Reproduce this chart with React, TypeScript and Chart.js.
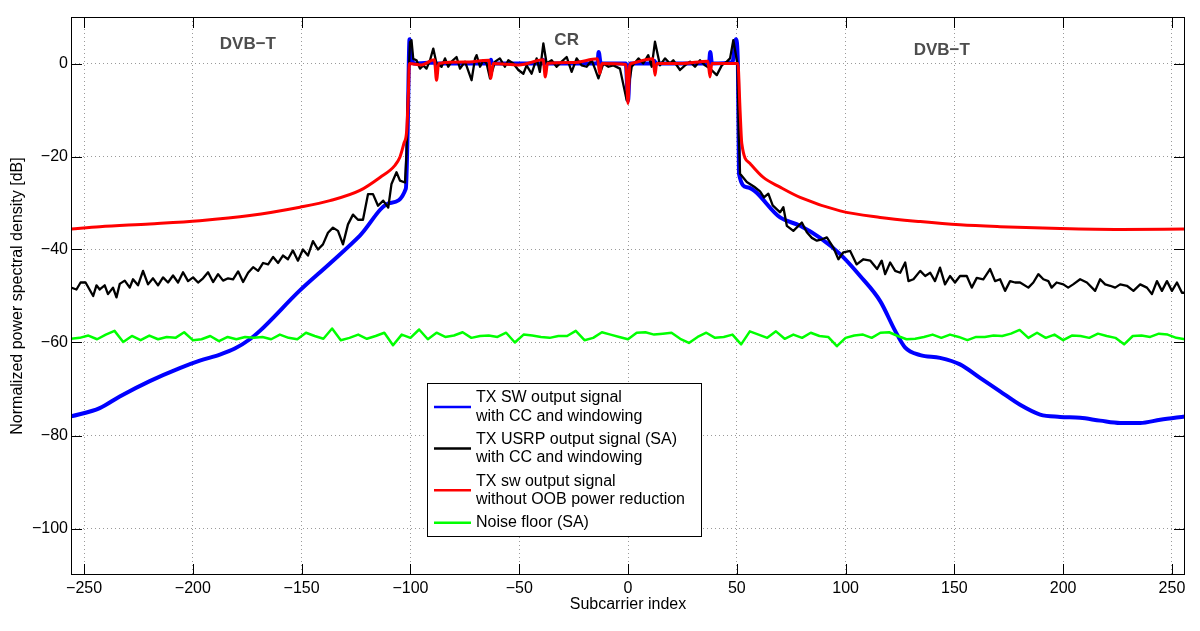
import React, { useEffect, useRef } from "react";
import { Chart, registerables } from "chart.js";

Chart.register(...registerables);

const FONT = "'Liberation Sans', Arial, Helvetica, sans-serif";

const X_TICKS = [-250, -200, -150, -100, -50, 0, 50, 100, 150, 200, 250];
const Y_TICKS = [-100, -80, -60, -40, -20, 0];
const X_MIN = -256;
const X_MAX = 256;
const Y_MIN = -110;
const Y_MAX = 10;

const X_TITLE = "Subcarrier index";
const Y_TITLE = "Normalized power spectral density [dB]";

const SERIES_LABELS = [
  ["TX SW output signal", "with CC and windowing"],
  ["TX USRP output signal (SA)", "with CC and windowing"],
  ["TX sw output signal", "without OOB power reduction"],
  ["Noise floor (SA)"],
];
const SERIES_COLORS = ["#0000ff", "#000000", "#ff0000", "#00ff00"];

const REGION_TEXT = ["DVB\u2212T", "CR", "DVB\u2212T"];
const REGION_X = [-174.7, -28.2, 144.2];
const REGION_Y = [4.1, 5.0, 2.9];

// Blue: TX SW output with CC and windowing
const BLUE_X = [-256, -242.8, -233.6, -219.8, -206, -196.8, -187.6, -180.7, -173.8, -169.2, -150.8, -137, -123.2, -109.4, -102.1, -101.3, -100.4, -99.6, -98.5, -88.5, -88, -87.5, -63.5, -63, -62.5, -39.5, -39, -38, -14, -13.5, -12.5, -1, 0, 1, 11.5, 12, 13, 37.2, 37.8, 38.6, 48, 49.6, 50.5, 51, 54.7, 69.9, 79.1, 88.3, 97.5, 106.7, 115.9, 122.8, 127.4, 134.3, 143.4, 152.6, 161.8, 171, 180.2, 189.4, 198.6, 207.8, 217, 226.2, 235.4, 244.6, 256];
const BLUE_Y = [-75.9, -74.1, -71.6, -68.3, -65.5, -63.9, -62.6, -61.3, -59.3, -57.5, -48.8, -43.0, -37.0, -30.0, -26.9, -15, 5.2, 2, 0, 0.2, -1.5, 0, 0, 0.8, 0, 0, 0.8, 0, 0, 2.5, 0, 0, -8, 0, 0, 0.6, 0, 0, 2.5, 0, 0.3, 5.2, 0, -23.7, -26.6, -33.1, -34.9, -37.5, -41, -45.7, -51.1, -57.5, -61.1, -62.7, -63.3, -64.7, -67.6, -70.5, -73.4, -75.5, -76.0, -76.2, -76.8, -77.3, -77.3, -76.6, -75.9];

// Black: TX USRP output (SA) with CC and windowing
const BLACK_X = [-256, -253.5, -251.6, -249.3, -245.8, -244.3, -242.8, -240.5, -239.0, -236.7, -235.1, -233.6, -231.3, -229.0, -227.5, -225.2, -222.9, -220.6, -218.3, -216.0, -213.7, -211.4, -209.1, -206.8, -204.5, -202.2, -199.9, -197.6, -195.3, -193.0, -190.7, -188.4, -186.1, -183.8, -181.5, -179.2, -176.9, -174.6, -172.3, -170.0, -167.7, -165.4, -163.1, -160.8, -158.6, -156.3, -154.0, -151.7, -149.4, -147.1, -144.8, -142.5, -140.2, -137.9, -135.6, -133.3, -131.0, -128.7, -126.4, -124.1, -121.8, -119.5, -117.2, -114.9, -112.5, -110.2, -108.7, -106.4, -104.8, -102.5, -101.8, -101.0, -100.2, -99.5, -98.7,
  -97.2, -95.6, -94.1, -92.6, -91.0, -89.5, -88.0, -85.7, -84.1, -82.6, -81.1, -78.8, -77.2, -74.9, -71.9, -70.3, -69.6, -68.0, -66.5, -65.0, -63.4, -61.1, -58.9, -56.6, -55.0, -52.7, -50.4, -48.1, -46.6, -44.3, -42.0, -40.5, -38.9, -37.4, -35.1, -32.8, -30.5, -28.2, -25.9, -23.6, -21.3, -19.0, -16.7, -15.2, -13.6, -11.3, -9.0, -6.7, -3.7, -0.6, 1.7, 4.8, 7.0, 9.3, 10.9, 12.4, 14.7, 17.0, 19.3, 20.8, 23.9, 26.2, 28.5, 30.8, 33.1, 35.4, 37.7, 40.8, 43.1, 45.4, 46.9, 48.4, 50.3,
  50.9, 51.5, 54.6, 58.0, 60.7, 62.5, 64.5, 66.5, 69.9, 71.4, 73.0, 76.0, 79.9, 82.2, 84.5, 86.8, 89.1, 91.4, 94.4, 96.7, 99.0, 102.1, 105.1, 108.2, 111.4, 114.5, 116.6, 118.2, 120.5, 122.8, 125.1, 127.4, 128.9, 131.2, 134.3, 136.6, 138.9, 141.1, 143.4, 145.7, 148.0, 150.3, 152.6, 155.7, 158.0, 160.3, 163.3, 166.4, 168.7, 171.0, 173.3, 175.6, 177.9, 180.2, 184.0, 186.3, 188.6, 190.9, 193.2, 194.7, 197.0, 200.1, 202.3, 204.6, 207.8, 210.9, 214.7, 217.0, 219.3, 221.6, 223.9, 226.2, 229.3, 232.3, 235.4, 238.5, 240.8, 243.1, 245.4, 247.7, 250.0, 252.3, 254.6, 256];
const BLACK_Y = [-48.2, -48.6, -47.1, -47.1, -50.0, -47.7, -48.6, -47.7, -49.6, -48.2, -50.3, -47.4, -46.7, -48.2, -46.4, -47.7, -44.6, -47.5, -46.2, -47.7, -46.0, -47.1, -45.6, -47.1, -44.9, -46.8, -46.0, -47.1, -46.2, -44.9, -47.0, -45.3, -46.7, -46.2, -46.4, -44.7, -47.0, -45.0, -43.8, -44.6, -42.9, -43.2, -41.6, -42.9, -41.3, -42.1, -40.2, -42.4, -40.0, -41.3, -38.2, -40.0, -38.9, -36.4, -35.3, -36.0, -38.9, -34.6, -32.5, -33.6, -33.6, -28.1, -28.1, -30.6, -29.5, -31.0, -25.9, -23.4, -25.2, -25.6, -19.5, -5, 4.6, 5.0, 1.0,
  0.7, -1.1, -0.4, -1.1, 0.7, 3.2, 0, -0.7, 1.1, -0.7, 0.4, 1.4, -1.1, 0.4, -3.6, 1.1, 1.8, -0.7, 0.7, 0, -3.2, 0.4, 1.1, -0.7, 0.7, 0, -1.4, -2.2, -0.4, -2.2, 1.1, -1.8, 4.3, 0, 0.7, -0.7, 0.4, 1.4, -1.8, 1.1, -0.4, -0.7, 0.7, -1.1, -3.2, 0, -0.7, -0.4, -1.1, -7.9, -0.7, 1.1, 0, 1.8, -0.7, 4.7, -0.4, 1.1, 0, 0.7, -1.4, -0.4, 0.4, -0.7, 0.7, -0.4, -1.1, -2.5, -0.4, 0.4, 1.1, 5.0, 0,
  -15, -23.7, -25.5, -26.5, -27.5, -28.8, -28.0, -30.5, -32.0, -30.9, -34.9, -36.0, -34.2, -36.3, -37.5, -38.1, -37.8, -37.4, -39.6, -42.1, -40.6, -40.3, -43.2, -42.1, -42.4, -44.2, -42.4, -45.3, -42.8, -44.6, -45.0, -42.8, -46.8, -46.4, -44.6, -45.7, -45.0, -46.8, -43.9, -47.5, -45.7, -47.1, -45.7, -45.7, -48.2, -46.1, -46.4, -44.2, -46.8, -46.4, -48.9, -46.8, -47.1, -47.1, -48.2, -47.1, -45.3, -46.4, -46.8, -48.2, -47.1, -47.5, -48.2, -47.5, -46.4, -47.1, -48.9, -46.4, -47.5, -47.8, -48.2, -47.5, -47.8, -48.9, -47.5, -48.2, -49.6, -46.8, -48.9, -46.8, -48.9, -47.1, -49.3, -49.3];

// Red: TX sw output without OOB power reduction
const RED_X = [-256, -242.8, -219.8, -196.8, -173.8, -150.8, -137, -123.2, -114, -107.1, -104.8, -103, -101.7, -100.9, -100.5, -95, -89, -88, -87, -75, -64, -63, -62, -50, -39, -38, -37, -25, -14, -13, -12, -1, 0, 0.8, 1.5, 11.5, 12.4, 13.2, 25, 36.7, 37.7, 38.5, 49.5, 50.5, 51.5, 52.3, 56.1, 62.2, 69.9, 79.1, 97.5, 115.9, 134.3, 152.6, 171, 198.6, 226.2, 256];
const RED_Y = [-35.6, -35.1, -34.5, -33.8, -32.7, -30.9, -29.5, -27.3, -24.5, -21.9, -20.1, -17.2, -14.4, -6, 0, -0.3, 0.8, -3.6, 0, 0.3, 0.7, -3.2, 0, -0.3, 0.8, -2.9, 0, 0.2, 1.0, -2.2, 0, -0.2, -8.6, -0.4, 0, 1.0, -2.5, 0, 0, 0.5, -2.9, 0, 0, 0, -10, -17.2, -21.5, -24.5, -26.6, -28.8, -31.7, -33.1, -34.0, -34.7, -35.1, -35.5, -35.7, -35.6];

// Green: noise floor (SA)
const GREEN_X = [-256, -252, -248, -244, -240, -236, -232, -228, -224, -220, -216, -212, -208, -204, -200, -196, -192, -188, -184, -180, -176, -172, -168, -164, -160, -156, -152, -148, -144, -140, -136, -132, -128,
  -124, -120, -116, -112, -108, -104, -100, -96, -92, -88, -84, -80, -76, -72, -68, -64, -60, -56, -52, -48, -44, -40, -36, -32, -28, -24, -20, -16, -12, -8, -4, 0,
  4, 8, 12, 16, 20, 24, 28, 32, 36, 40, 44, 48, 52, 56, 60, 64, 68, 72, 76, 80, 84, 88, 92, 96, 100, 104, 108, 112, 116, 120, 124, 128,
  132, 136, 140, 144, 148, 152, 156, 160, 164, 168, 172, 176, 180, 184, 188, 192, 196, 200, 204, 208, 212, 216, 220, 224, 228, 232, 236, 240, 244, 248, 252, 256];
const GREEN_Y = [-59.2, -59.0, -58.5, -59.3, -58.3, -57.5, -59.9, -58.6, -59.5, -58.5, -59.3, -58.8, -59.0, -57.8, -59.5, -59.3, -58.6, -59.7, -58.8, -59.3, -58.8, -59.0, -58.8, -59.3, -58.3, -59.0, -59.3, -57.9, -58.6, -59.2, -57.0, -59.5, -59.0,
  -58.3, -59.2, -58.6, -57.9, -60.6, -58.3, -59.0, -57.2, -59.3, -57.9, -58.8, -58.5, -57.8, -59.0, -58.6, -58.5, -58.8, -57.9, -60.0, -58.3, -58.5, -58.8, -59.0, -58.6, -58.6, -57.5, -59.5, -59.0, -57.8, -58.3, -58.8, -59.3,
  -57.9, -57.8, -58.3, -58.1, -57.9, -59.2, -60.1, -58.8, -57.9, -59.0, -58.8, -58.3, -60.4, -57.6, -58.3, -59.0, -57.6, -59.2, -58.3, -59.0, -57.9, -58.6, -58.8, -60.8, -59.0, -58.5, -58.3, -59.0, -57.9, -57.8, -58.6, -59.3,
  -59.2, -58.8, -58.3, -59.0, -58.3, -58.8, -59.5, -58.8, -58.8, -58.5, -58.6, -58.1, -57.3, -59.0, -57.9, -59.0, -58.3, -59.5, -58.5, -58.6, -59.0, -58.1, -58.6, -59.0, -60.4, -58.6, -58.5, -58.8, -58.1, -58.3, -59.0, -59.3];

const pts = (xs: number[], ys: number[]) => xs.map((x, i) => ({ x, y: ys[i] }));

const fmt = (v: number) => (v < 0 ? "\u2212" + Math.abs(v) : String(v));

const decorPlugin = {
  id: "matlabDecor",
  afterDraw(chart: any) {
    const { ctx, chartArea: ca, scales } = chart;
    const xs = scales.x;
    const ys = scales.y;
    ctx.save();
    // inward ticks on all sides
    ctx.strokeStyle = "#000";
    ctx.lineWidth = 1;
    ctx.setLineDash([]);
    ctx.beginPath();
    const TL = 11;
    for (const v of X_TICKS) {
      const px = Math.round(xs.getPixelForValue(v)) + 0.5;
      ctx.moveTo(px, ca.bottom);
      ctx.lineTo(px, ca.bottom - TL);
      ctx.moveTo(px, ca.top);
      ctx.lineTo(px, ca.top + TL);
    }
    for (const v of Y_TICKS) {
      const py = Math.round(ys.getPixelForValue(v)) + 0.5;
      ctx.moveTo(ca.left, py);
      ctx.lineTo(ca.left + TL, py);
      ctx.moveTo(ca.right, py);
      ctx.lineTo(ca.right - TL, py);
    }
    ctx.stroke();
    ctx.strokeRect(ca.left + 0.5, ca.top + 0.5, ca.right - ca.left - 1, ca.bottom - ca.top - 1);

    // region annotations
    ctx.fillStyle = "#4d4d4d";
    ctx.font = `bold 17px ${FONT}`;
    ctx.textAlign = "center";
    ctx.textBaseline = "middle";
    REGION_TEXT.forEach((t, i) => {
      ctx.fillText(t, xs.getPixelForValue(REGION_X[i]), ys.getPixelForValue(REGION_Y[i]));
    });

    // axis titles
    ctx.fillStyle = "#000";
    ctx.font = `16px ${FONT}`;
    ctx.fillText(X_TITLE, (ca.left + ca.right) / 2, 605);
    ctx.save();
    ctx.translate(18, (ca.top + ca.bottom) / 2);
    ctx.rotate(-Math.PI / 2);
    ctx.fillText(Y_TITLE, 0, 0);
    ctx.restore();

    // legend
    const bx = 427, by = 383, bw = 274, bh = 153;
    ctx.fillStyle = "#fff";
    ctx.fillRect(bx, by, bw, bh);
    ctx.strokeStyle = "#000";
    ctx.lineWidth = 1;
    ctx.strokeRect(bx + 0.5, by + 0.5, bw, bh);
    ctx.textAlign = "left";
    ctx.textBaseline = "middle";
    ctx.font = `16px ${FONT}`;
    let y = 397.7;
    SERIES_LABELS.forEach((lines, i) => {
      const first = y;
      lines.forEach((ln, j) => {
        ctx.fillStyle = "#000";
        ctx.fillText(ln, 476, y);
        if (j < lines.length - 1) y += 18.4;
      });
      const mid = (first + y) / 2;
      ctx.strokeStyle = SERIES_COLORS[i];
      ctx.lineWidth = 2.5;
      ctx.beginPath();
      ctx.moveTo(434, mid);
      ctx.lineTo(471, mid);
      ctx.stroke();
      y += 23.3;
    });
    ctx.restore();
  },
};

export default function App() {
  const ref = useRef<HTMLCanvasElement | null>(null);
  useEffect(() => {
    if (!ref.current) return;
    document.body.style.margin = "0";
    const chart = new Chart(ref.current, {
      type: "line",
      data: {
        datasets: [
          { label: SERIES_LABELS[0].join(" "), data: pts(BLUE_X, BLUE_Y), borderColor: SERIES_COLORS[0], borderWidth: 4, cubicInterpolationMode: "monotone", order: 4 },
          { label: SERIES_LABELS[1].join(" "), data: pts(BLACK_X, BLACK_Y), borderColor: SERIES_COLORS[1], borderWidth: 2.3, tension: 0, order: 3 },
          { label: SERIES_LABELS[2].join(" "), data: pts(RED_X, RED_Y), borderColor: SERIES_COLORS[2], borderWidth: 3, cubicInterpolationMode: "monotone", order: 2 },
          { label: SERIES_LABELS[3].join(" "), data: pts(GREEN_X, GREEN_Y), borderColor: SERIES_COLORS[3], borderWidth: 2.5, tension: 0, order: 1 },
        ] as any,
      },
      options: {
        responsive: false,
        animation: false,
        devicePixelRatio: 1,
        parsing: false as any,
        normalized: true,
        elements: { point: { radius: 0, hoverRadius: 0 }, line: { borderJoinStyle: "round", borderCapStyle: "round", fill: false } },
        layout: { padding: { left: 0, top: 17, right: 15, bottom: 0 } },
        plugins: { legend: { display: false }, tooltip: { enabled: false }, title: { display: false } },
        scales: {
          x: {
            type: "linear",
            min: X_MIN,
            max: X_MAX,
            afterBuildTicks: (s: any) => { s.ticks = X_TICKS.map((v) => ({ value: v })); },
            afterFit: (s: any) => { s.height = 56; },
            grid: { color: "#9a9a9a", lineWidth: 1, drawTicks: false },
            border: { display: false, dash: [1, 3] },
            ticks: { color: "#000", font: { family: FONT, size: 16 }, padding: 4, maxRotation: 0, autoSkip: false, callback: (v: any) => fmt(Number(v)) },
          },
          y: {
            type: "linear",
            min: Y_MIN,
            max: Y_MAX,
            afterBuildTicks: (s: any) => { s.ticks = Y_TICKS.map((v) => ({ value: v })); },
            afterFit: (s: any) => { s.width = 71; },
            grid: { color: "#9a9a9a", lineWidth: 1, drawTicks: false },
            border: { display: false, dash: [1, 3] },
            ticks: { color: "#000", font: { family: FONT, size: 16 }, padding: 3, autoSkip: false, callback: (v: any) => fmt(Number(v)) },
          },
        },
      },
      plugins: [decorPlugin],
    });
    return () => chart.destroy();
  }, []);
  return (
    <div style={{ position: "fixed", left: 0, top: 0, width: 1200, height: 631, background: "#fff" }}>
      <canvas ref={ref} width={1200} height={631} style={{ display: "block" }} />
    </div>
  );
}
